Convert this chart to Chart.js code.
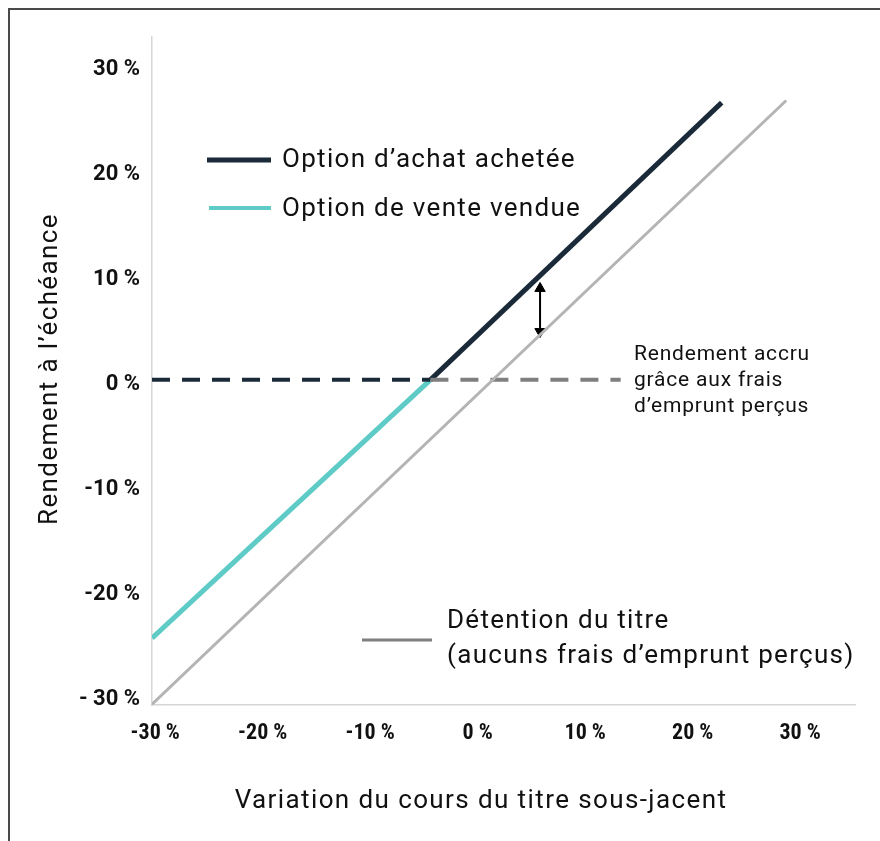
<!DOCTYPE html>
<html>
<head>
<meta charset="utf-8">
<script src="https://cdn.jsdelivr.net/npm/chart.js@4.4.0/dist/chart.umd.min.js"></script>
<style>
  body { margin: 0; background: #fff; }
  canvas { display: block; }
</style>
</head>
<body>
<canvas id="myChart" width="880" height="841"></canvas>
<script>
// tick labels
const xTicks = [-30, -20, -10, 0, 10, 20, 30];
const yTicks = [-30, -20, -10, 0, 10, 20, 30];
const yTickLabels = ['- 30 %', '-20 %', '-10 %', '0 %', '10 %', '20 %', '30 %'];

// series (x = variation du cours, y = rendement)
const detentionX = [-30.3, 28.7];
const detentionY = [-30.5, 27.0];
const venteX = [-30.3, -4.4];
const venteY = [-24.2, 0.4];
const achatX = [-4.4, 22.7];
const achatY = [0.4, 26.8];
const plancherX = [-30.3, -4.4];
const plancherY = [0.4, 0.4];
const plancherGrisX = [-4.4, 13.3];
const plancherGrisY = [0.4, 0.4];
const flecheX = [5.8, 5.8];
const flecheY = [9.1, 5.0];

const pts = (xs, ys) => xs.map((x, i) => ({ x: x, y: ys[i] }));

const NAVY = '#1b2a38';
const TEAL = '#5ecbc7';
const GRIS = '#b4b4b4';
const GRIS_FONCE = '#7f7f7f';

const extras = {
    id: 'extras',
    afterDraw(chart) {
        const ctx = chart.ctx;
        ctx.save();
        // cadre
        ctx.strokeStyle = '#4a4a4a';
        ctx.lineWidth = 2;
        ctx.beginPath();
        ctx.moveTo(880, 9);
        ctx.lineTo(9, 9);
        ctx.lineTo(9, 841);
        ctx.stroke();

        ctx.fillStyle = '#111';
        ctx.textBaseline = 'middle';
        ctx.letterSpacing = '1.4px';

        // titres des axes
        ctx.font = '26px Roboto';
        ctx.textAlign = 'center';
        ctx.fillText('Variation du cours du titre sous-jacent', 481, 801);
        ctx.save();
        ctx.translate(50, 369);
        ctx.rotate(-Math.PI / 2);
        ctx.fillText('Rendement à l\u2019échéance', 0, 0);
        ctx.restore();

        // légende
        ctx.lineCap = 'butt';
        ctx.lineWidth = 5;
        ctx.strokeStyle = NAVY;
        ctx.beginPath(); ctx.moveTo(207, 160); ctx.lineTo(271, 160); ctx.stroke();
        ctx.lineWidth = 4;
        ctx.strokeStyle = TEAL;
        ctx.beginPath(); ctx.moveTo(209, 208); ctx.lineTo(271, 208); ctx.stroke();
        ctx.lineWidth = 3;
        ctx.strokeStyle = GRIS_FONCE;
        ctx.beginPath(); ctx.moveTo(362, 640); ctx.lineTo(432, 640); ctx.stroke();

        ctx.textAlign = 'left';
        ctx.letterSpacing = '1.3px';
        ctx.fillText('Option d\u2019achat achetée', 282, 160);
        ctx.fillText('Option de vente vendue', 282, 209);
        ctx.fillText('Détention du titre', 447, 621);
        ctx.fillText('(aucuns frais d\u2019emprunt perçus)', 447, 656);

        // annotation
        ctx.font = '21px Roboto';
        ctx.letterSpacing = '0.8px';
        ctx.fillText('Rendement accru', 634, 355);
        ctx.fillText('grâce aux frais', 634, 381);
        ctx.fillText('d\u2019emprunt perçus', 634, 407);
        ctx.restore();
    }
};

const ctxChart = document.getElementById('myChart').getContext('2d');
const chart = new Chart(ctxChart, {
    type: 'line',
    data: {
        datasets: [
            {
                label: 'Détention du titre',
                data: pts(detentionX, detentionY),
                borderColor: GRIS,
                borderWidth: 3,
                pointRadius: 0
            },
            {
                label: 'Plancher gris',
                data: pts(plancherGrisX, plancherGrisY),
                borderColor: GRIS_FONCE,
                borderWidth: 4,
                borderDash: [18, 12],
                pointRadius: 0
            },
            {
                label: 'Plancher',
                data: pts(plancherX, plancherY),
                borderColor: NAVY,
                borderWidth: 4,
                borderDash: [18, 12],
                pointRadius: 0
            },
            {
                label: 'Option de vente vendue',
                data: pts(venteX, venteY),
                borderColor: TEAL,
                borderWidth: 5,
                pointRadius: 0
            },
            {
                label: 'Option d\u2019achat achetée',
                data: pts(achatX, achatY),
                borderColor: NAVY,
                borderWidth: 5,
                pointRadius: 0
            },
            {
                label: 'Flèche',
                data: pts(flecheX, flecheY),
                borderColor: '#000',
                backgroundColor: '#000',
                borderWidth: 2,
                pointStyle: 'triangle',
                pointRadius: 6,
                pointRotation: [0, 180],
                pointBorderWidth: 1
            }
        ]
    },
    options: {
        responsive: false,
        animation: false,
        layout: { padding: { top: 37, right: 25, left: 0, bottom: 0 } },
        scales: {
            x: {
                type: 'linear',
                min: -30.3,
                max: 35.1,
                afterFit: s => { s.height = 136; },
                afterBuildTicks: s => { s.ticks = xTicks.map(v => ({ value: v })); },
                grid: { display: false },
                border: { display: true, color: '#d6d6d6', width: 1.5 },
                ticks: {
                    padding: 7,
                    color: '#111',
                    font: { family: '"Liberation Sans Narrow", "Roboto Condensed", Roboto', size: 22, weight: 'bold' },
                    callback: v => v + ' %'
                }
            },
            y: {
                type: 'linear',
                min: -30.57,
                max: 33.05,
                afterFit: s => { s.width = 152; },
                afterBuildTicks: s => { s.ticks = yTicks.map(v => ({ value: v })); },
                grid: { display: false },
                border: { display: true, color: '#d6d6d6', width: 1.5 },
                ticks: {
                    padding: 4,
                    color: '#111',
                    font: { family: 'Roboto', size: 22, weight: 'bold' },
                    callback: v => yTickLabels[yTicks.indexOf(v)]
                }
            }
        },
        plugins: {
            legend: { display: false },
            tooltip: { enabled: false }
        }
    },
    plugins: [extras]
});
</script>
</body>
</html>
